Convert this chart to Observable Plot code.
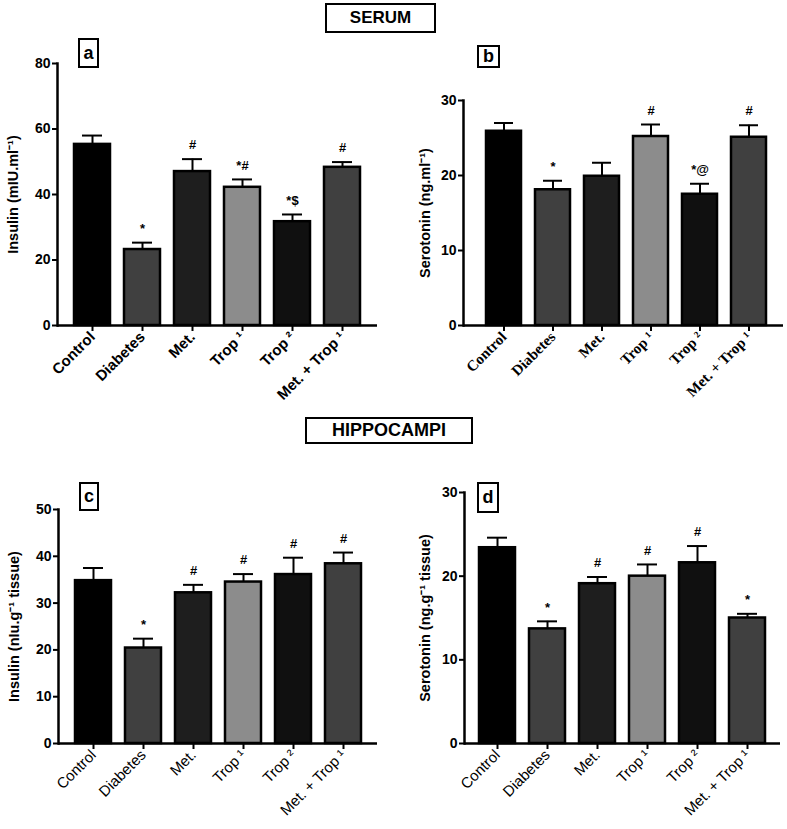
<!DOCTYPE html>
<html>
<head>
<meta charset="utf-8">
<script src="https://cdn.jsdelivr.net/npm/d3@7"></script>
<script src="https://cdn.jsdelivr.net/npm/@observablehq/plot@0.6"></script>
<style>
  html, body { margin: 0; padding: 0; background: #fff; }
  #root { position: relative; width: 787px; height: 829px; overflow: hidden; font-family: "Liberation Sans", Arial, sans-serif; background: #fff; }
  .panel { position: absolute; }
  .hdr { position: absolute; box-sizing: border-box; border: 2.5px solid #000; font-weight: bold; display: flex; align-items: center; justify-content: center; color: #000; background: #fff; }
  .tag { position: absolute; box-sizing: border-box; border: 2.5px solid #000; font-weight: bold; font-size: 18px; display: flex; align-items: center; justify-content: center; color: #000; background: #fff; z-index: 2; }
</style>
</head>
<body>
<div id="root"></div>
<script>
// ---- data ----
const groups = ["Control", "Diabetes", "Met.", "Trop \u00B9", "Trop \u00B2", "Met. + Trop \u00B9"];
const barColors = ["#000000", "#404040", "#1e1e1e", "#8c8c8c", "#101010", "#404040"];

const serumInsulin = [55.3, 23.2, 47.0, 42.2, 31.7, 48.3];
const serumInsulinSem = [2.7, 2.1, 3.8, 2.4, 2.2, 1.6];
const serumInsulinSig = ["", "*", "#", "*#", "*$", "#"];

const serumSerotonin = [25.9, 18.1, 19.9, 25.2, 17.5, 25.1];
const serumSerotoninSem = [1.1, 1.2, 1.8, 1.6, 1.4, 1.6];
const serumSerotoninSig = ["", "*", "", "#", "*@", "#"];

const hippoInsulin = [34.8, 20.4, 32.2, 34.5, 36.1, 38.4];
const hippoInsulinSem = [2.7, 2.0, 1.7, 1.7, 3.6, 2.4];
const hippoInsulinSig = ["", "*", "#", "#", "#", "#"];

const hippoSerotonin = [23.4, 13.7, 19.1, 20.0, 21.6, 15.0];
const hippoSerotoninSem = [1.2, 0.9, 0.8, 1.4, 2.0, 0.5];
const hippoSerotoninSig = ["", "*", "#", "#", "#", "*"];

const ticksA = [0, 20, 40, 60, 80];
const ticksB = [0, 10, 20, 30];
const ticksC = [0, 10, 20, 30, 40, 50];
const ticksD = [0, 10, 20, 30];

const sans = "Liberation Sans, Arial, Helvetica, sans-serif";
const serif = "Liberation Serif, Times New Roman, serif";

function panel(o) {
  const rows = groups.map((g, i) => ({g, v: o.values[i], top: o.values[i] + o.sems[i], sig: o.sig[i], c: barColors[i]}));
  return Plot.plot({
    width: o.width, height: o.height,
    marginTop: o.mt, marginBottom: o.mb, marginLeft: o.ml, marginRight: o.mr,
    style: {fontFamily: sans, fontSize: "14px", color: "#000", background: "#fff", overflow: "visible"},
    color: {type: "identity"},
    x: {domain: groups, padding: 0.28, insetLeft: o.insetL || 0, insetRight: o.insetR || 0},
    y: {domain: [0, o.yMax]},
    marks: [
      Plot.barY(rows, {x: "g", y: "v", fill: "c", stroke: "#000", strokeWidth: 2.5}),
      Plot.ruleX(rows, {x: "g", y1: "v", y2: "top", stroke: "#000", strokeWidth: 2}),
      Plot.tickY(rows, {x: "g", y: "top", stroke: "#000", strokeWidth: 2, inset: 8}),
      Plot.text(rows, {x: "g", y: "top", text: "sig", dy: -14, fontSize: 13, fontWeight: "bold", fill: "#000"}),
      Plot.axisY({ticks: o.ticks, tickSize: 5, tickPadding: 2, strokeWidth: 2, label: null, fontSize: 14, fontWeight: "bold"}),
      Plot.axisY({ticks: [], label: o.yLabel, labelAnchor: "center", labelOffset: o.labelOffset, labelArrow: "none", fontSize: 14.5, fontWeight: "bold"}),
      Plot.axisX({tickSize: 6, tickPadding: 3, tickRotate: -45, label: null, strokeWidth: 2, fontFamily: o.xFont, fontWeight: o.xWeight, fontSize: 15}),
      Plot.ruleY([0], {stroke: "#000", strokeWidth: 2.5}),
      Plot.frame({anchor: "left", stroke: "#000", strokeWidth: 2.5})
    ]
  });
}

const root = document.getElementById("root");
function place(svg, left, top) {
  const d = document.createElement("div");
  d.className = "panel";
  d.style.left = left + "px";
  d.style.top = top + "px";
  d.appendChild(svg);
  root.appendChild(d);
}
function box(cls, text, left, top, w, h, fs) {
  const d = document.createElement("div");
  d.className = cls;
  d.textContent = text;
  Object.assign(d.style, {left: left + "px", top: top + "px", width: w + "px", height: h + "px"});
  if (fs) d.style.fontSize = fs + "px";
  root.appendChild(d);
}

place(panel({values: serumInsulin, sems: serumInsulinSem, sig: serumInsulinSig, yMax: 80, ticks: ticksA,
  yLabel: "Insulin (mIU.ml\u207B\u00B9)", width: 390, height: 420, ml: 57, mr: 13, mt: 63, mb: 95,
  labelOffset: 50, xFont: sans, xWeight: "bold"}), 0, 0);

place(panel({values: serumSerotonin, sems: serumSerotoninSem, sig: serumSerotoninSig, yMax: 30, ticks: ticksB,
  yLabel: "Serotonin (ng.ml\u207B\u00B9)", width: 397, height: 420, ml: 73, mr: 4, mt: 100, mb: 95,
  insetL: 7, insetR: 1, labelOffset: 44, xFont: serif, xWeight: "bold"}), 390, 0);

place(panel({values: hippoInsulin, sems: hippoInsulinSem, sig: hippoInsulinSig, yMax: 50, ticks: ticksC,
  yLabel: "Insulin (nIu.g\u207B\u00B9 tissue)", width: 390, height: 409, ml: 58, mr: 13, mt: 89, mb: 86,
  labelOffset: 50, xFont: sans, xWeight: "normal"}), 0, 420);

place(panel({values: hippoSerotonin, sems: hippoSerotoninSem, sig: hippoSerotoninSig, yMax: 30, ticks: ticksD,
  yLabel: "Serotonin (ng.g\u207B\u00B9 tissue)", width: 397, height: 409, ml: 74, mr: 7, mt: 72, mb: 86,
  labelOffset: 45, xFont: sans, xWeight: "normal"}), 390, 420);

box("hdr", "SERUM", 325, 3, 111, 30, 17);
box("hdr", "HIPPOCAMPI", 305, 417, 168, 27, 18);
box("tag", "a", 78, 38, 21, 30);
box("tag", "b", 477, 45, 23, 23);
box("tag", "c", 79, 482, 20, 29);
box("tag", "d", 477, 482, 22, 31);
</script>
</body>
</html>
